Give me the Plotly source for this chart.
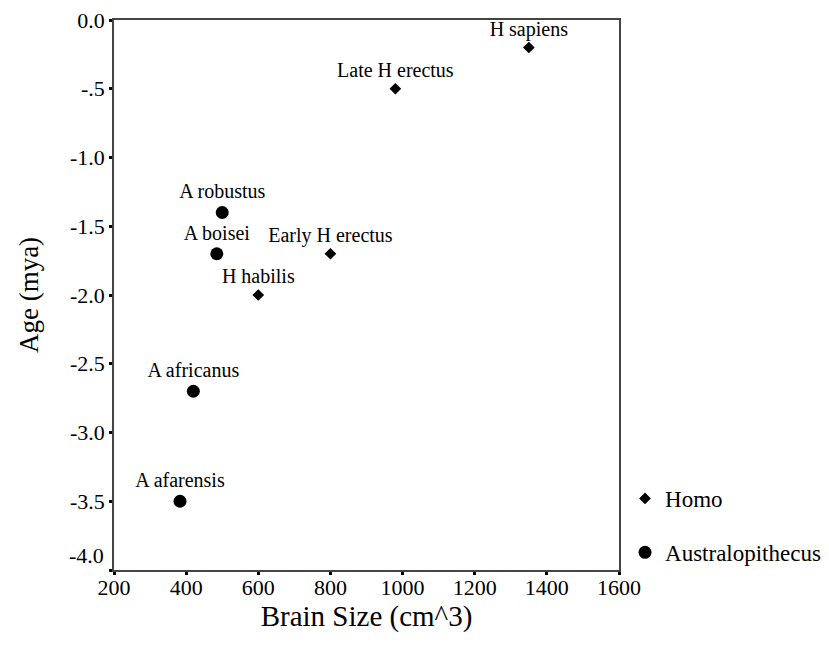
import plotly.graph_objects as go

# Data
homo_names = ["H sapiens", "Late H erectus", "Early H erectus", "H habilis"]
homo_brain = [1350, 980, 800, 600]
homo_age = [-0.2, -0.5, -1.7, -2.0]

aus_names = ["A robustus", "A boisei", "A africanus", "A afarensis"]
aus_brain = [500, 485, 420, 383]
aus_age = [-1.4, -1.7, -2.7, -3.5]

x_ticks = [200, 400, 600, 800, 1000, 1200, 1400, 1600]
y_ticks = [0.0, -0.5, -1.0, -1.5, -2.0, -2.5, -3.0, -3.5, -4.0]
y_ticktext = ["0.0", "-.5", "-1.0", "-1.5", "-2.0", "-2.5", "-3.0", "-3.5", ""]
y_bottom_label = "-4.0"

FONT = "Liberation Serif, Times New Roman, serif"

fig = go.Figure()
fig.add_trace(go.Scatter(
    x=homo_brain, y=homo_age, mode="markers+text", name="Homo",
    text=homo_names, textposition="top center",
    textfont=dict(family=FONT, size=20, color="black"),
    marker=dict(symbol="diamond", size=9, color="black"),
    legendgroup="h",
))
fig.add_trace(go.Scatter(
    x=aus_brain, y=aus_age, mode="markers+text", name="Australopithecus",
    text=aus_names, textposition="top center",
    textfont=dict(family=FONT, size=20, color="black"),
    marker=dict(symbol="circle", size=13, color="black"),
    legendgroup="a",
))

axis_common = dict(
    showline=True, linecolor="#444", linewidth=1.5, mirror=True,
    ticks="outside", ticklen=3, tickwidth=3, tickcolor="black",
    showgrid=False, zeroline=False, automargin=False,
    ticklabeloverflow="allow",
)

fig.add_annotation(
    x=0, xref="paper", y=-4.0, yref="y", text=y_bottom_label,
    showarrow=False, xanchor="right", yanchor="middle",
    xshift=-8, yshift=15, font=dict(family=FONT, size=22, color="black"),
)

fig.update_layout(
    width=829, height=654,
    margin=dict(l=106, r=218, t=12, b=92),
    paper_bgcolor="white", plot_bgcolor="white",
    font=dict(family=FONT, color="black"),
    xaxis=dict(range=[200, 1600], tickvals=x_ticks,
               tickfont=dict(family=FONT, size=22, color="black"),
               ticklabelstandoff=-6,
               title=dict(text="Brain Size (cm^3)", font=dict(family=FONT, size=29), standoff=1),
               **axis_common),
    yaxis=dict(range=[-4, 0], tickvals=y_ticks, ticktext=y_ticktext,
               tickfont=dict(family=FONT, size=22, color="black"),
               title=dict(text="Age (mya)", font=dict(family=FONT, size=27), standoff=24),
               **axis_common),
    showlegend=True,
    legend=dict(xref="container", yref="container",
                x=0.7443, y=0.2087, xanchor="left", yanchor="middle",
                font=dict(family=FONT, size=23, color="black"),
                tracegroupgap=21, bgcolor="rgba(0,0,0,0)"),
)

fig.write_html("out.html")
